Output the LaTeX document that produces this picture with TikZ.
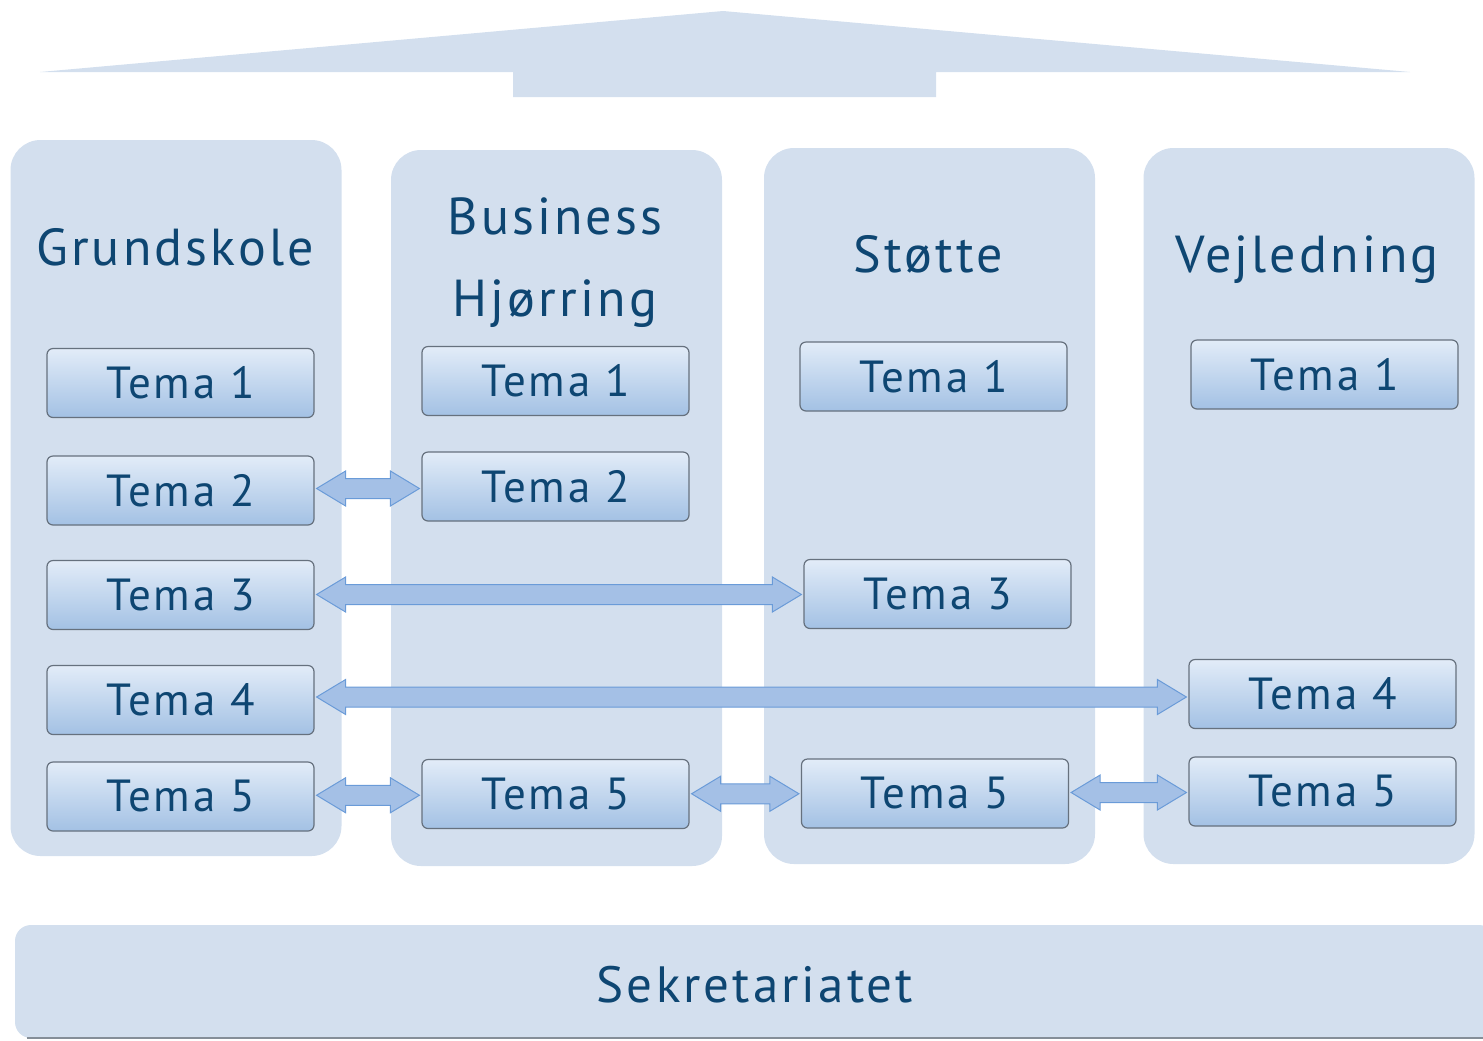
\documentclass[tikz,border=0pt]{standalone}
\usepackage{fontspec}
\setmainfont{PT Sans}[LetterSpace=6]
\usetikzlibrary{calc}
\definecolor{panel}{HTML}{D3DFEE}
\definecolor{ink}{HTML}{0E4672}
\definecolor{temaTop}{HTML}{E2ECF8}
\definecolor{temaBot}{HTML}{A3C1E4}
\definecolor{temaEdge}{HTML}{66717E}
\definecolor{pil}{HTML}{A4C0E6}
\definecolor{pilEdge}{HTML}{6A9BD8}

\tikzstyle{column}=[fill=panel,rounded corners=15pt,minimum width=165.5pt,minimum height=358pt,inner sep=0pt]
\tikzstyle{title}=[text=ink,font=\fontsize{26}{41}\selectfont,align=center,anchor=base]
\tikzstyle{tema}=[draw=temaEdge,line width=0.6pt,rounded corners=3pt,top color=temaTop,bottom color=temaBot,minimum width=133.5pt,minimum height=34.5pt,text=ink,font=\fontsize{22.5}{24}\selectfont,inner sep=0pt]
\tikzstyle{link}=[fill=pil,draw=pilEdge,line width=0.5pt]
\newcommand{\temalink}[2]{%
    \path[link] let \p1=($(#1.east)+(1pt,0)$), \p2=($(#2.west)+(-1pt,0)$), \p3=($(\p1)!.5!(\p2)$) in
        (\x1,\y3) -- (\x1+14.5pt,\y3+8.75pt) -- (\x1+14.5pt,\y3+5pt) -- (\x2-14.5pt,\y3+5pt) -- (\x2-14.5pt,\y3+8.75pt)
        -- (\x2,\y3) -- (\x2-14.5pt,\y3-8.75pt) -- (\x2-14.5pt,\y3-5pt) -- (\x1+14.5pt,\y3-5pt) -- (\x1+14.5pt,\y3-8.75pt) -- cycle;}

\begin{document}
\begin{tikzpicture}[x=0.5pt, y=-0.5pt]
    \useasboundingbox (0,0) rectangle (1483,1040);
    % roof
    \fill[panel] (40,72) -- (723,11) -- (1410,72) -- (936,72) -- (936,97) -- (513,97) -- (513,72) -- cycle;
    % columns and their titles
    \foreach \pos/\name in {{(176,498)/grund}, {(556.5,508)/bus}, {(929.5,506)/stot}, {(1309,506)/vejl}}
        \node[column] (\name) at \pos {};
    \node[title] (grundtitle) at (175,265) {Grundskole};
    \node[title] (bustitle) at (555,316) {Business\\Hjørring};
    \node[title] (stottitle) at (928,272) {Støtte};
    \node[title] (vejltitle) at (1307,272) {Vejledning};
    % secretariat
    \node[column, minimum width=740pt, minimum height=56.5pt, rounded corners=8pt] (sekr) at (755,981.5) {};
    \draw[temaEdge!80, line width=1pt] ([xshift=6pt]sekr.south west) -- (sekr.south east);
    \node[title, font=\fontsize{25.5}{30}\selectfont] (sekrtitle) at (755,1002) {Sekretariatet};
    % tema boxes
    \foreach \pos/\name/\nr in {{(180.5,383)/g1/1}, {(180.5,490.5)/g2/2}, {(180.5,595)/g3/3}, {(180.5,700)/g4/4}, {(180.5,796.5)/g5/5},
        {(555.5,381)/b1/1}, {(555.5,486.5)/b2/2}, {(555.5,794)/b5/5},
        {(933.5,376.5)/s1/1}, {(937.5,594)/s3/3}, {(935,793.5)/s5/5},
        {(1324.5,374.5)/v1/1}, {(1322.5,694)/v4/4}, {(1322.5,791.5)/v5/5}}
        \node[tema] (\name) at \pos {Tema \nr};
    % links between the columns
    \foreach \source/\dest in {g2/b2, g3/s3, g4/v4, g5/b5, b5/s5, s5/v5}
        {\temalink{\source}{\dest}}
\end{tikzpicture}
\end{document}
